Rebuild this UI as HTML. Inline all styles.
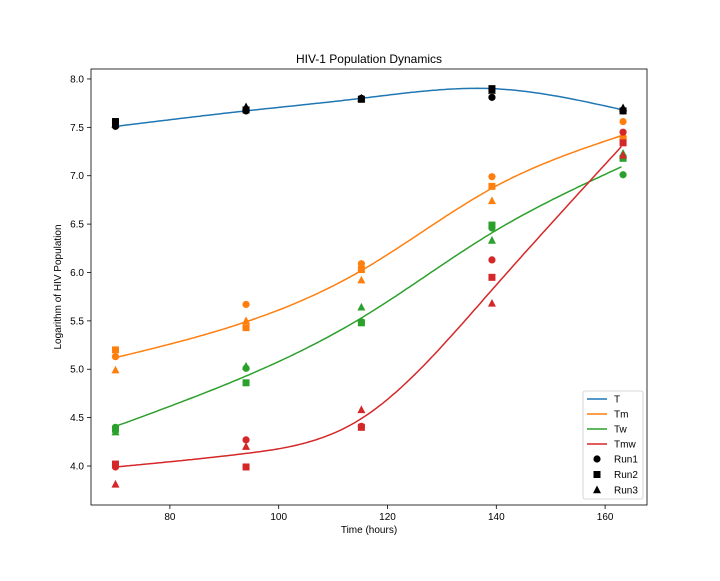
<!DOCTYPE html>
<html><head><meta charset="utf-8"><style>
body{margin:0;background:#fff;font-family:"Liberation Sans","DejaVu Sans",sans-serif}
svg text{font-family:"Liberation Sans","DejaVu Sans",sans-serif}
</style></head><body>
<svg id="chart" width="720" height="576" xmlns="http://www.w3.org/2000/svg"></svg>
<script>
const times=[70,94,115.2,139.2,163.3];
const seriesNames=["T","Tm","Tw","Tmw"];
const colors=["#1f77b4","#ff7f0e","#2ca02c","#d62728"];
const fitT=[7.51,7.67,7.80,7.90,7.68];
const fitTm=[5.12,5.49,6.02,6.87,7.42];
const fitTw=[4.41,4.93,5.53,6.41,7.10];
const fitTmw=[3.99,4.13,4.49,5.82,7.32];
const run1T=[7.51,7.67,7.80,7.81,7.67];
const run2T=[7.56,7.68,7.79,7.90,7.67];
const run3T=[7.53,7.71,7.80,7.88,7.70];
const run1Tm=[5.13,5.67,6.09,6.99,7.56];
const run2Tm=[5.20,5.43,6.03,6.89,7.38];
const run3Tm=[4.99,5.50,5.92,6.74,7.43];
const run1Tw=[4.40,5.01,5.49,6.46,7.01];
const run2Tw=[4.38,4.86,5.48,6.49,7.18];
const run3Tw=[4.35,5.03,5.64,6.33,7.23];
const run1Tmw=[3.99,4.27,4.41,6.13,7.45];
const run2Tmw=[4.02,3.99,4.40,5.95,7.34];
const run3Tmw=[3.81,4.20,4.58,5.68,7.21];
const xTicks=[80,100,120,140,160];
const yTicks=[4.0,4.5,5.0,5.5,6.0,6.5,7.0,7.5,8.0];

const fits=[fitT,fitTm,fitTw,fitTmw];
const runs=[[run1T,run2T,run3T],[run1Tm,run2Tm,run3Tm],[run1Tw,run2Tw,run3Tw],[run1Tmw,run2Tmw,run3Tmw]];
const L=91,R=647,T=69,B=505;
const xmin=65.5,xmax=167.7,ymin=3.597,ymax=8.103;
const sx=v=>L+(v-xmin)/(xmax-xmin)*(R-L);
const sy=v=>B-(v-ymin)/(ymax-ymin)*(B-T);
const svg=document.getElementById('chart');
const NS="http://www.w3.org/2000/svg";
function mk(tag,attrs,parent){const e=document.createElementNS(NS,tag);for(const k in attrs)e.setAttribute(k,attrs[k]);(parent||svg).appendChild(e);return e;}
function txt(s,attrs,name){const e=mk('text',attrs);e.textContent=s;


return e;}
function spline(xs,ys){const n=xs.length,h=[],a=[],l=[1],mu=[0],z=[0],c=new Array(n).fill(0),b=[],d=[];
for(let i=0;i<n-1;i++)h.push(xs[i+1]-xs[i]);
for(let i=1;i<n-1;i++)a[i]=3/h[i]*(ys[i+1]-ys[i])-3/h[i-1]*(ys[i]-ys[i-1]);
for(let i=1;i<n-1;i++){l[i]=2*(xs[i+1]-xs[i-1])-h[i-1]*mu[i-1];mu[i]=h[i]/l[i];z[i]=(a[i]-h[i-1]*z[i-1])/l[i];}
for(let j=n-2;j>=0;j--){if(j>0)c[j]=z[j]-mu[j]*c[j+1];else c[j]=0;b[j]=(ys[j+1]-ys[j])/h[j]-h[j]*(c[j+1]+2*c[j])/3;d[j]=(c[j+1]-c[j])/(3*h[j]);}
return x=>{let i=0;while(i<n-2&&x>xs[i+1])i++;const t=x-xs[i];return ys[i]+b[i]*t+c[i]*t*t+d[i]*t*t*t;};}
xTicks.forEach(v=>{const l=mk('line',{x1:sx(v),x2:sx(v),y1:B,y2:B+4,stroke:'#000','stroke-width':0.8});


txt(String(v),{x:sx(v),y:B+15,'font-size':10,'text-anchor':'middle'},'x-tick-label');});
yTicks.forEach(v=>{const l=mk('line',{x1:L-4,x2:L,y1:sy(v),y2:sy(v),stroke:'#000','stroke-width':0.8});


txt(v.toFixed(1),{x:L-7,y:sy(v)+3.5,'font-size':10,'text-anchor':'end'},'y-tick-label');});
txt('HIV-1 Population Dynamics',{x:(L+R)/2,y:63,'font-size':12,'text-anchor':'middle'},'chart-title');
txt('Time (hours)',{x:(L+R)/2,y:533,'font-size':10,'text-anchor':'middle'},'x-axis-title');
txt('Logarithm of HIV Population',{x:61,y:(T+B)/2,'font-size':10,'text-anchor':'middle',transform:`rotate(-90 61 ${(T+B)/2})`},'y-axis-title');
fits.forEach((f,si)=>{const s=spline(times,f);let d='';for(let x=times[0];x<=times[times.length-1]+0.01;x+=0.5)d+=(d?'L':'M')+sx(x).toFixed(1)+','+sy(s(x)).toFixed(1);
const p=mk('path',{d:d,fill:'none',stroke:colors[si],'stroke-width':1.5});

});
function marker(kind,x,y,col){let e;
if(kind==0)e=mk('circle',{cx:x,cy:y,r:3.6,fill:col});
else if(kind==1)e=mk('rect',{x:x-3.5,y:y-3.5,width:7,height:7,fill:col});
else e=mk('polygon',{points:`${x},${y-4.5} ${x+4},${y+3.2} ${x-4},${y+3.2}`,fill:col});
return e;}
runs.forEach((rs,si)=>{rs.forEach((arr,ri)=>{arr.forEach((v,i)=>{const col=si==0?'#000':colors[si];const e=marker(ri,sx(times[i]),sy(v),col);

});});});
const fr=mk('rect',{x:L,y:T,width:R-L,height:B-T,fill:'none',stroke:'#000','stroke-width':0.8});


const lg=mk('rect',{x:583,y:391,width:60,height:108,rx:2,fill:'#fff','fill-opacity':0.8,stroke:'#ccc','stroke-width':0.8});


seriesNames.forEach((n,i)=>{const y=399+i*15;const l=mk('line',{x1:587,x2:607,y1:y,y2:y,stroke:colors[i],'stroke-width':1.5});


txt(n,{x:614,y:y+3.5,'font-size':10},'legend-label');});
['Run1','Run2','Run3'].forEach((n,i)=>{const y=459+i*15.5;const m=marker(i,597,y,'#000');


txt(n,{x:614,y:y+3.5,'font-size':10},'legend-label');});
</script>
</body></html>
